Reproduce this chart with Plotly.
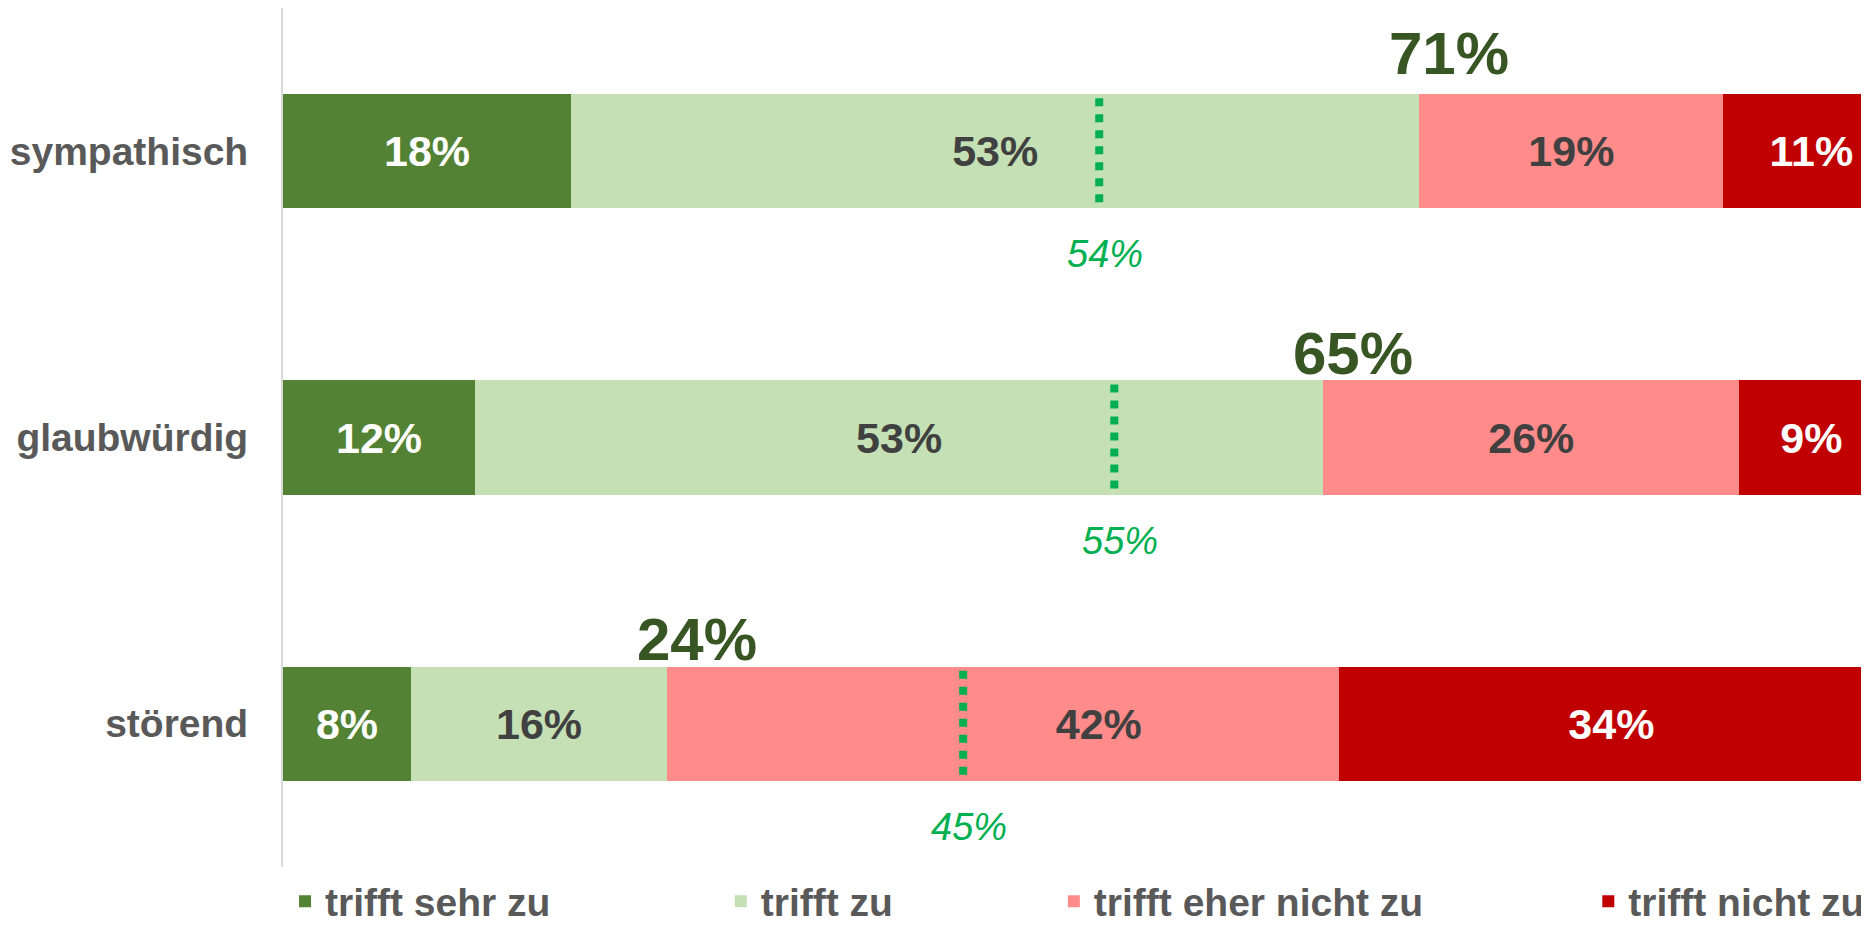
import plotly.graph_objects as go

# ---- data ----
categories = ["sympathisch", "glaubwürdig", "störend"]
series_names = ["trifft sehr zu", "trifft zu", "trifft eher nicht zu", "trifft nicht zu"]
trifft_sehr_zu = [18, 12, 8]
trifft_zu = [53, 53, 16]
trifft_eher_nicht_zu = [19, 26, 42]
trifft_nicht_zu = [11, 9, 34]
benchmark = [54, 55, 45]  # dotted reference values (secondary axis)

series_values = [trifft_sehr_zu, trifft_zu, trifft_eher_nicht_zu, trifft_nicht_zu]
colors = ["#548235", "#C5E0B4", "#FF8B8B", "#C00000"]
text_colors = ["#FFFFFF", "#404040", "#404040", "#FFFFFF"]
legend_ids = ["legend", "legend2", "legend3", "legend4"]
legend_x = [0.0013, 0.2774, 0.4885, 0.8272]
total_yshift = [98, 84, 84]

FONT = "Liberation Sans, Arial, sans-serif"
NBSP = "\u00a0"


def seg_label(v, series_idx, cat_idx):
    # in the reference the "störend / trifft eher nicht zu" label sits right of the dotted line
    if series_idx == 2 and cat_idx == 2:
        return NBSP * 16 + f"{v}%"
    return f"{v}%"


fig = go.Figure()
for s, (name, vals, col, tcol, lg) in enumerate(zip(series_names, series_values, colors, text_colors, legend_ids)):
    fig.add_trace(go.Bar(
        y=categories, x=vals, name=name, orientation="h",
        marker=dict(color=col, line=dict(width=0)),
        text=[seg_label(v, s, c) for c, v in enumerate(vals)], textposition="inside",
        insidetextanchor="middle", constraintext="none",
        textfont=dict(family=FONT, size=43, color=tcol, weight="bold"),
        legend=lg, hoverinfo="skip",
    ))

# totals of agreement above the bars
for cat, a, b, ys in zip(categories, trifft_sehr_zu, trifft_zu, total_yshift):
    fig.add_annotation(
        x=a + b, y=cat, xref="x", yref="y", text=f"{a + b}%", showarrow=False,
        xanchor="center", yanchor="middle", xshift=30, yshift=ys,
        font=dict(family=FONT, size=60, color="#375623", weight="bold"),
    )

# dotted benchmark lines and labels on secondary axis
for i, (cat, v) in enumerate(zip(categories, benchmark)):
    fig.add_shape(
        type="line", xref="x2", yref="y", x0=v, x1=v, y0=i - 0.185, y1=i + 0.185,
        line=dict(color="#00B050", width=8, dash="8px,8px"),
    )
    fig.add_annotation(
        x=v, y=cat, xref="x2", yref="y", text=f"{v}%", showarrow=False,
        xanchor="center", yanchor="middle", xshift=6, yshift=-103,
        font=dict(family=FONT, size=38, color="#00B050", style="italic"),
    )

legend_common = dict(
    orientation="h", xanchor="left", yanchor="middle", y=-0.040,
    font=dict(family=FONT, size=39, color="#595959", weight="bold"),
    bgcolor="rgba(0,0,0,0)", borderwidth=0,
)
layout_legends = {}
for lg, lx in zip(legend_ids, legend_x):
    layout_legends[lg] = dict(legend_common, x=lx)

# page body has an 8px default margin; offset the figure accordingly
fig.update_layout(
    width=1853, height=918,
    margin=dict(l=275, r=0, t=0, b=59, autoexpand=False),
    barmode="stack", bargap=0.60,
    plot_bgcolor="white", paper_bgcolor="white",
    showlegend=True,
    xaxis=dict(range=[0, 98.6], visible=False, fixedrange=True),
    xaxis2=dict(range=[0, 104.4], overlaying="x", visible=False, fixedrange=True),
    yaxis=dict(
        categoryorder="array", categoryarray=categories, autorange="reversed",
        showline=True, linecolor="#D9D9D9", linewidth=2, showgrid=False,
        zeroline=False, ticks="", ticklabelstandoff=25, automargin=False,
        tickfont=dict(family=FONT, size=39, color="#595959", weight="bold"),
    ),
    **layout_legends,
)

fig.write_html("out.html")
